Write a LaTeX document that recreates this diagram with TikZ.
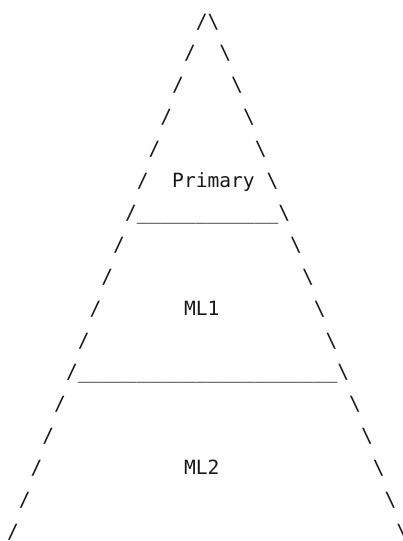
\documentclass[tikz,border=0pt]{standalone}
\usepackage{fontspec}
\setmonofont{DejaVu Sans Mono}
\begin{document}
\begin{tikzpicture}[x=1pt,y=-1pt,
  ch/.style={anchor=base west, inner sep=0pt, outer sep=0pt,
             font=\ttfamily\fontsize{19.6}{20}\selectfont, text=black!90}]
\useasboundingbox (0,0) rectangle (403,541);
\def\cw{11.8}   % character cell width
\def\lx{7}      % left edge of column 0
\def\lh{31.9}   % line pitch
\def\by{28}     % baseline of the first line
% the two walls of the pyramid, one character per line
\foreach \k in {1,...,17} {
  \node[ch] (l\k) at ({\lx+(17-\k)*\cw}, {\by+(\k-1)*\lh}) {/};
  \node[ch] (r\k) at ({\lx+(16+\k)*\cw}, {\by+(\k-1)*\lh}) {\textbackslash};
}
% floors between the layers
\node[ch] (floor1) at ({\lx+11*\cw}, {\by+6*\lh}) {\_\_\_\_\_\_\_\_\_\_\_\_};
\node[ch] (floor2) at ({\lx+6*\cw}, {\by+11*\lh}) {\_\_\_\_\_\_\_\_\_\_\_\_\_\_\_\_\_\_\_\_\_\_};
% layer names
\node[ch] (primary) at ({\lx+14*\cw}, {\by+5*\lh}) {Primary};
\node[ch] (ml1) at ({\lx+15*\cw}, {\by+9*\lh}) {ML1};
\node[ch] (ml2) at ({\lx+15*\cw}, {\by+14*\lh}) {ML2};
\end{tikzpicture}
\end{document}
